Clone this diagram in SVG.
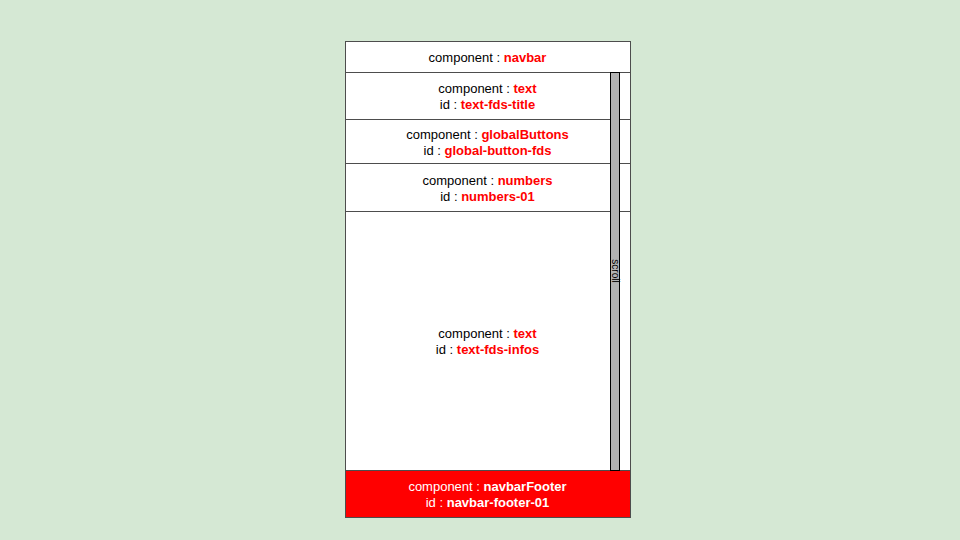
<svg xmlns="http://www.w3.org/2000/svg" width="960" height="540" viewBox="0 0 960 540">
<style>
.box{fill:#ffffff;stroke:#4d4d4d;stroke-width:1}
.t{font-family:"Liberation Sans",Arial,sans-serif;font-size:13px;fill:#000000;text-anchor:middle}
.r{fill:#ff0000;font-weight:bold}
.w{fill:#ffffff}
.wb{fill:#ffffff;font-weight:bold}
</style>
<rect x="0" y="0" width="960" height="540" fill="#d5e8d4"/>
<g id="navbar">
<rect class="box" x="345.5" y="41.5" width="285" height="31"/>
<text class="t" x="487.5" y="62">component : <tspan class="r">navbar</tspan></text>
</g>
<g id="text-fds-title">
<rect class="box" x="345.5" y="72.5" width="285" height="47"/>
<text class="t" x="487.5" y="93">component : <tspan class="r">text</tspan></text>
<text class="t" x="487.5" y="109">id : <tspan class="r">text-fds-title</tspan></text>
</g>
<g id="global-button-fds">
<rect class="box" x="345.5" y="119.5" width="285" height="44"/>
<text class="t" x="487.5" y="138.5">component : <tspan class="r">globalButtons</tspan></text>
<text class="t" x="487.5" y="154.5">id : <tspan class="r">global-button-fds</tspan></text>
</g>
<g id="numbers-01">
<rect class="box" x="345.5" y="163.5" width="285" height="48"/>
<text class="t" x="487.5" y="184.5">component : <tspan class="r">numbers</tspan></text>
<text class="t" x="487.5" y="200.5">id : <tspan class="r">numbers-01</tspan></text>
</g>
<g id="text-fds-infos">
<rect class="box" x="345.5" y="211.5" width="285" height="259"/>
<text class="t" x="487.5" y="337.5">component : <tspan class="r">text</tspan></text>
<text class="t" x="487.5" y="353.5">id : <tspan class="r">text-fds-infos</tspan></text>
</g>
<g id="navbar-footer-01">
<rect x="345.5" y="470.5" width="285" height="47" fill="#ff0000" stroke="#4d4d4d" stroke-width="1"/>
<text class="t w" x="487.5" y="490.5">component : <tspan class="wb">navbarFooter</tspan></text>
<text class="t w" x="487.5" y="506.5">id : <tspan class="wb">navbar-footer-01</tspan></text>
</g>
<g id="scroll">
<rect x="610.5" y="72.5" width="9" height="398" fill="#b3b3b3" stroke="#000000" stroke-width="1"/>
<text x="615" y="271" transform="rotate(90 615 271)" font-family="&quot;Liberation Sans&quot;,Arial,sans-serif" font-size="10" fill="#000000" text-anchor="middle" dominant-baseline="central">scroll</text>
</g>
<g id="connectors"></g>
</svg>
